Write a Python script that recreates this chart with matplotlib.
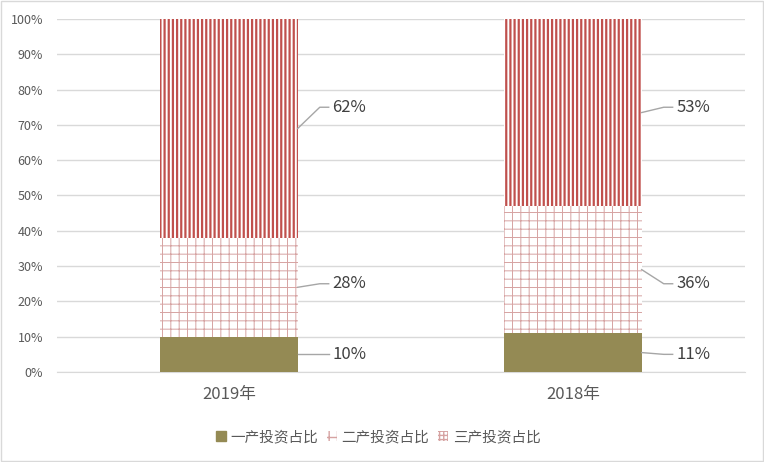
import matplotlib

matplotlib.use("Agg")
import matplotlib.pyplot as plt
from matplotlib.patches import Patch, Rectangle

plt.rcParams["font.family"] = ["Noto Sans CJK SC", "DejaVu Sans"]

categories = ["2019年", "2018年"]
primary = [10, 11]
secondary = [28, 36]
tertiary = [62, 53]
series_names = ["一产投资占比", "二产投资占比", "三产投资占比"]
label_y = [5, 25, 75]  # where the data labels sit (percent)

OLIVE = "#948A54"
RED = "#C0504D"
DOT = "#D6A3A2"
GRID = "#D9D9D9"
TEXT = "#595959"


def hatched_bar(ax, x, h, bottom, hatch, color, lw):
    with plt.rc_context({"hatch.linewidth": lw}):
        bars = ax.bar(x, h, bottom=bottom, width=0.4, facecolor="white",
                      edgecolor=color, linewidth=0, hatch=hatch, zorder=3)
    for b in bars:
        if hasattr(b, "set_hatch_linewidth"):
            b.set_hatch_linewidth(lw)
    return bars


fig = plt.figure(figsize=(7.64, 4.62), dpi=100)
ax = fig.add_axes([0.0746, 0.1948, 0.9004, 0.7641])

x = list(range(len(categories)))
bot2 = primary
bot3 = [a + b for a, b in zip(primary, secondary)]
ax.bar(x, primary, width=0.4, color=OLIVE, zorder=3)
hatched_bar(ax, x, secondary, bot2, "++", DOT, 0.7)
hatched_bar(ax, x, tertiary, bot3, "||||", RED, 1.6)

# data labels with leader lines
for i in x:
    edge = i + 0.2
    mids = [primary[i] / 2, bot2[i] + secondary[i] / 2, bot3[i] + tertiary[i] / 2]
    vals = [primary[i], secondary[i], tertiary[i]]
    for mid, ly, v in zip(mids, label_y, vals):
        ax.plot([edge, edge + 0.064, edge + 0.09], [mid, ly, ly],
                color="#A6A6A6", lw=1.0, zorder=4, clip_on=False)
        ax.text(edge + 0.1, ly, f"{v}%", fontsize=12, color="#404040",
                va="center", ha="left", zorder=5)

ax.set_xlim(-0.5, 1.5)
ax.set_ylim(0, 100)
ax.set_xticks(x)
ax.set_xticklabels(categories, fontsize=12, color=TEXT)
ax.set_yticks(range(0, 101, 10))
ax.set_yticklabels([f"{v}%" for v in range(0, 101, 10)], fontsize=9, color=TEXT)
ax.tick_params(axis="both", length=0)
ax.tick_params(axis="x", pad=10)
ax.tick_params(axis="y", pad=10)
ax.grid(True, axis="y", color=GRID, lw=1.0, zorder=0)
for side in ["left", "right", "top"]:
    ax.spines[side].set_visible(False)
ax.spines["bottom"].set_color(GRID)

with plt.rc_context({"hatch.linewidth": 0.7}):
    handles = [
        Patch(facecolor=OLIVE, edgecolor=OLIVE),
        Patch(facecolor="white", edgecolor=DOT, linewidth=0, hatch="++"),
        Patch(facecolor="white", edgecolor=DOT, linewidth=0, hatch="++++"),
    ]
fig.legend(handles, series_names, loc="center", bbox_to_anchor=(0.495, 0.054),
           ncol=3, frameon=False, fontsize=10.5, handlelength=0.7,
           handleheight=0.7, handletextpad=0.3, columnspacing=0.6,
           labelcolor=TEXT)

fig.patches.append(Rectangle((0.0015, 0.002), 0.997, 0.996, transform=fig.transFigure,
                             fill=False, edgecolor=GRID, lw=1.0))

fig.savefig("out.png", dpi=100)
